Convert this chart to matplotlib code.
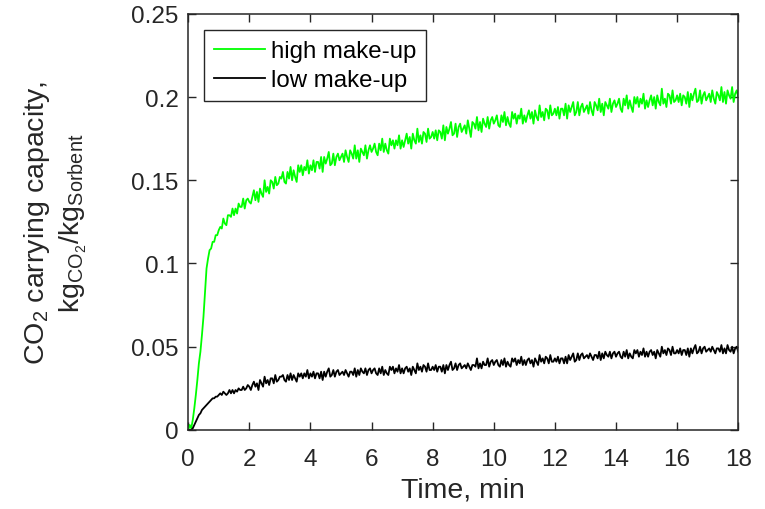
"""
CO2 carrying capacity vs time for high / low sorbent make-up.
"""

import numpy as np
import matplotlib
matplotlib.use("Agg")
import matplotlib.pyplot as plt

TIME_STEP = 0.05

high_makeup = [
    # 0 - 1 min
    0.000, 0.003, 0.001, 0.006, 0.013, 0.021, 0.030, 0.040, 0.047, 0.057, 0.068,
    0.082, 0.097, 0.103, 0.108, 0.109, 0.113, 0.113, 0.117, 0.117, 0.120,
    # 1 - 2
    0.122, 0.121, 0.127, 0.124, 0.123, 0.129, 0.129, 0.128, 0.133, 0.129,
    0.133, 0.130, 0.136, 0.134, 0.134, 0.139, 0.133, 0.138, 0.139, 0.137,
    # 2 - 3
    0.136, 0.140, 0.144, 0.138, 0.143, 0.137, 0.145, 0.142, 0.140, 0.150,
    0.143, 0.146, 0.142, 0.150, 0.149, 0.145, 0.152, 0.147, 0.148, 0.152,
    # 3 - 4
    0.151, 0.155, 0.149, 0.148, 0.155, 0.151, 0.158, 0.150, 0.156, 0.152,
    0.149, 0.159, 0.155, 0.159, 0.153, 0.158, 0.156, 0.162, 0.154, 0.159,
    # 4 - 5
    0.156, 0.162, 0.155, 0.161, 0.161, 0.157, 0.164, 0.155, 0.164, 0.160,
    0.163, 0.167, 0.159, 0.160, 0.166, 0.159, 0.164, 0.166, 0.162, 0.164,
    # 5 - 6
    0.166, 0.161, 0.168, 0.164, 0.161, 0.168, 0.166, 0.163, 0.171, 0.163,
    0.168, 0.161, 0.169, 0.167, 0.165, 0.171, 0.163, 0.168, 0.171, 0.167,
    # 6 - 7
    0.169, 0.172, 0.167, 0.165, 0.172, 0.168, 0.175, 0.167, 0.172, 0.168,
    0.166, 0.175, 0.171, 0.174, 0.169, 0.174, 0.171, 0.177, 0.169, 0.174,
    # 7 - 8
    0.170, 0.174, 0.178, 0.172, 0.176, 0.169, 0.178, 0.174, 0.172, 0.181,
    0.173, 0.177, 0.172, 0.179, 0.178, 0.173, 0.181, 0.175, 0.176, 0.179,
    # 8 - 9
    0.175, 0.180, 0.174, 0.180, 0.179, 0.175, 0.183, 0.174, 0.182, 0.178,
    0.181, 0.185, 0.177, 0.178, 0.184, 0.176, 0.182, 0.184, 0.179, 0.181,
    # 9 - 10
    0.183, 0.178, 0.186, 0.181, 0.176, 0.185, 0.184, 0.181, 0.188, 0.180,
    0.185, 0.179, 0.187, 0.184, 0.182, 0.188, 0.181, 0.186, 0.188, 0.184,
    # 10 - 11
    0.186, 0.189, 0.183, 0.182, 0.189, 0.185, 0.191, 0.183, 0.188, 0.184,
    0.182, 0.191, 0.187, 0.190, 0.184, 0.189, 0.187, 0.193, 0.184, 0.189,
    # 11 - 12
    0.185, 0.189, 0.192, 0.187, 0.191, 0.184, 0.192, 0.188, 0.186, 0.195,
    0.188, 0.191, 0.186, 0.193, 0.192, 0.187, 0.195, 0.189, 0.190, 0.193,
    # 12 - 13
    0.189, 0.194, 0.187, 0.193, 0.193, 0.189, 0.196, 0.187, 0.195, 0.191,
    0.194, 0.197, 0.189, 0.191, 0.197, 0.189, 0.194, 0.196, 0.191, 0.193,
    # 13 - 14
    0.195, 0.190, 0.197, 0.192, 0.189, 0.197, 0.195, 0.192, 0.199, 0.191,
    0.196, 0.189, 0.197, 0.195, 0.193, 0.199, 0.191, 0.196, 0.198, 0.194,
    # 14 - 15
    0.196, 0.199, 0.193, 0.191, 0.199, 0.195, 0.201, 0.193, 0.198, 0.194,
    0.191, 0.200, 0.196, 0.200, 0.194, 0.199, 0.196, 0.202, 0.193, 0.198,
    # 15 - 16
    0.194, 0.198, 0.201, 0.195, 0.200, 0.193, 0.201, 0.197, 0.195, 0.205,
    0.196, 0.199, 0.194, 0.202, 0.201, 0.196, 0.204, 0.197, 0.198, 0.201,
    # 16 - 17
    0.197, 0.202, 0.195, 0.201, 0.200, 0.196, 0.203, 0.194, 0.202, 0.198,
    0.202, 0.205, 0.197, 0.198, 0.204, 0.196, 0.201, 0.203, 0.198, 0.200,
    # 17 - 18
    0.202, 0.197, 0.204, 0.199, 0.196, 0.203, 0.201, 0.198, 0.206, 0.197,
    0.203, 0.196, 0.204, 0.201, 0.199, 0.206, 0.197, 0.202, 0.204, 0.200,
]

low_makeup = [
    # 0 - 1 min
    0.000, 0.000, 0.000, 0.001, 0.003, 0.005, 0.007, 0.009, 0.010, 0.012, 0.013,
    0.014, 0.015, 0.016, 0.017, 0.018, 0.019, 0.019, 0.020, 0.020, 0.021,
    # 1 - 2
    0.022, 0.021, 0.023, 0.022, 0.021, 0.022, 0.024, 0.022, 0.024, 0.022,
    0.024, 0.023, 0.025, 0.024, 0.024, 0.026, 0.024, 0.025, 0.027, 0.026,
    # 2 - 3
    0.024, 0.027, 0.029, 0.026, 0.028, 0.024, 0.030, 0.028, 0.026, 0.032,
    0.028, 0.030, 0.027, 0.031, 0.031, 0.028, 0.033, 0.029, 0.030, 0.032,
    # 3 - 4
    0.032, 0.033, 0.030, 0.029, 0.033, 0.030, 0.034, 0.030, 0.033, 0.031,
    0.029, 0.034, 0.032, 0.034, 0.031, 0.034, 0.032, 0.036, 0.031, 0.034,
    # 4 - 5
    0.032, 0.035, 0.031, 0.034, 0.034, 0.031, 0.035, 0.030, 0.035, 0.032,
    0.035, 0.037, 0.032, 0.033, 0.036, 0.032, 0.035, 0.036, 0.033, 0.034,
    # 5 - 6
    0.035, 0.033, 0.036, 0.034, 0.032, 0.035, 0.035, 0.033, 0.037, 0.032,
    0.036, 0.033, 0.037, 0.035, 0.034, 0.037, 0.033, 0.036, 0.037, 0.034,
    # 6 - 7
    0.036, 0.037, 0.034, 0.033, 0.037, 0.034, 0.038, 0.033, 0.036, 0.034,
    0.033, 0.038, 0.036, 0.038, 0.034, 0.037, 0.035, 0.039, 0.034, 0.037,
    # 7 - 8
    0.034, 0.037, 0.038, 0.035, 0.037, 0.033, 0.038, 0.036, 0.034, 0.040,
    0.036, 0.038, 0.035, 0.039, 0.038, 0.035, 0.040, 0.036, 0.036, 0.038,
    # 8 - 9
    0.036, 0.039, 0.035, 0.038, 0.038, 0.035, 0.039, 0.034, 0.039, 0.036,
    0.039, 0.041, 0.036, 0.037, 0.040, 0.036, 0.039, 0.040, 0.037, 0.038,
    # 9 - 10
    0.039, 0.037, 0.040, 0.038, 0.036, 0.039, 0.039, 0.038, 0.043, 0.037,
    0.040, 0.037, 0.041, 0.039, 0.039, 0.043, 0.038, 0.041, 0.042, 0.039,
    # 10 - 11
    0.041, 0.042, 0.039, 0.038, 0.042, 0.039, 0.043, 0.038, 0.041, 0.039,
    0.038, 0.043, 0.041, 0.043, 0.039, 0.042, 0.040, 0.044, 0.039, 0.042,
    # 11 - 12
    0.039, 0.042, 0.043, 0.040, 0.042, 0.038, 0.043, 0.041, 0.039, 0.045,
    0.041, 0.043, 0.040, 0.044, 0.043, 0.040, 0.045, 0.041, 0.041, 0.043,
    # 12 - 13
    0.041, 0.044, 0.040, 0.043, 0.043, 0.040, 0.044, 0.040, 0.045, 0.042,
    0.044, 0.046, 0.041, 0.042, 0.046, 0.042, 0.045, 0.046, 0.043, 0.044,
    # 13 - 14
    0.045, 0.043, 0.046, 0.044, 0.042, 0.045, 0.045, 0.043, 0.047, 0.042,
    0.046, 0.043, 0.047, 0.045, 0.044, 0.047, 0.043, 0.046, 0.047, 0.044,
    # 14 - 15
    0.046, 0.047, 0.044, 0.043, 0.047, 0.044, 0.048, 0.043, 0.046, 0.044,
    0.043, 0.048, 0.046, 0.048, 0.044, 0.047, 0.045, 0.049, 0.044, 0.047,
    # 15 - 16
    0.044, 0.047, 0.048, 0.045, 0.047, 0.043, 0.048, 0.046, 0.044, 0.050,
    0.046, 0.048, 0.045, 0.049, 0.048, 0.045, 0.050, 0.046, 0.046, 0.048,
    # 16 - 17
    0.046, 0.049, 0.045, 0.048, 0.048, 0.045, 0.049, 0.044, 0.049, 0.046,
    0.049, 0.051, 0.046, 0.047, 0.050, 0.046, 0.049, 0.050, 0.047, 0.048,
    # 17 - 18
    0.049, 0.047, 0.050, 0.048, 0.046, 0.049, 0.049, 0.047, 0.051, 0.046,
    0.049, 0.046, 0.051, 0.048, 0.047, 0.050, 0.046, 0.049, 0.050, 0.047,
]

x_ticks = [0, 2, 4, 6, 8, 10, 12, 14, 16, 18]
y_ticks = [0, 0.05, 0.1, 0.15, 0.2, 0.25]
y_tick_labels = ["0", "0.05", "0.1", "0.15", "0.2", "0.25"]

time = np.arange(len(high_makeup)) * TIME_STEP

#  Style 
AX_COLOR = "#262626"
plt.rcParams["font.family"] = "Liberation Sans"
plt.rcParams["mathtext.fontset"] = "custom"
plt.rcParams["mathtext.rm"] = "Liberation Sans"
plt.rcParams["mathtext.it"] = "Liberation Sans"
plt.rcParams["mathtext.default"] = "regular"

fig = plt.figure(figsize=(7.65, 5.10), dpi=100)
ax = fig.add_axes([0.246, 0.155, 0.719, 0.816])

ax.plot(time, high_makeup, color="#00ff00", lw=1.3, label="high make-up")
ax.plot(time, low_makeup, color="black", lw=1.3, label="low make-up")

ax.set_xlim(0, 18)
ax.set_ylim(0, 0.25)
ax.set_xticks(x_ticks)
ax.set_yticks(y_ticks)
ax.set_yticklabels(y_tick_labels)

ax.tick_params(direction="in", top=True, right=True, length=6, width=1.0,
               labelsize=17.5, colors=AX_COLOR)
ax.tick_params(axis="x", pad=13)
ax.tick_params(axis="y", pad=7)
for s in ax.spines.values():
    s.set_color(AX_COLOR)
    s.set_linewidth(1.1)

ax.set_xlabel("Time, min", fontsize=20.5, color=AX_COLOR, labelpad=5)
ax.set_ylabel("CO$_2$ carrying capacity,\nkg$_{CO_2}$/kg$_{Sorbent}$",
              fontsize=20.5, color=AX_COLOR, linespacing=1.25)
ax.yaxis.set_label_coords(-0.18, 0.5)

leg = ax.legend(loc="upper left", bbox_to_anchor=(0.029, 0.96), fontsize=17.3,
                handlelength=2.15, handletextpad=0.25, borderaxespad=0,
                fancybox=False, framealpha=1, edgecolor=AX_COLOR,
                borderpad=0.4, labelspacing=0.3)
leg.get_frame().set_linewidth(1.0)

fig.savefig("out.png", dpi=100)
